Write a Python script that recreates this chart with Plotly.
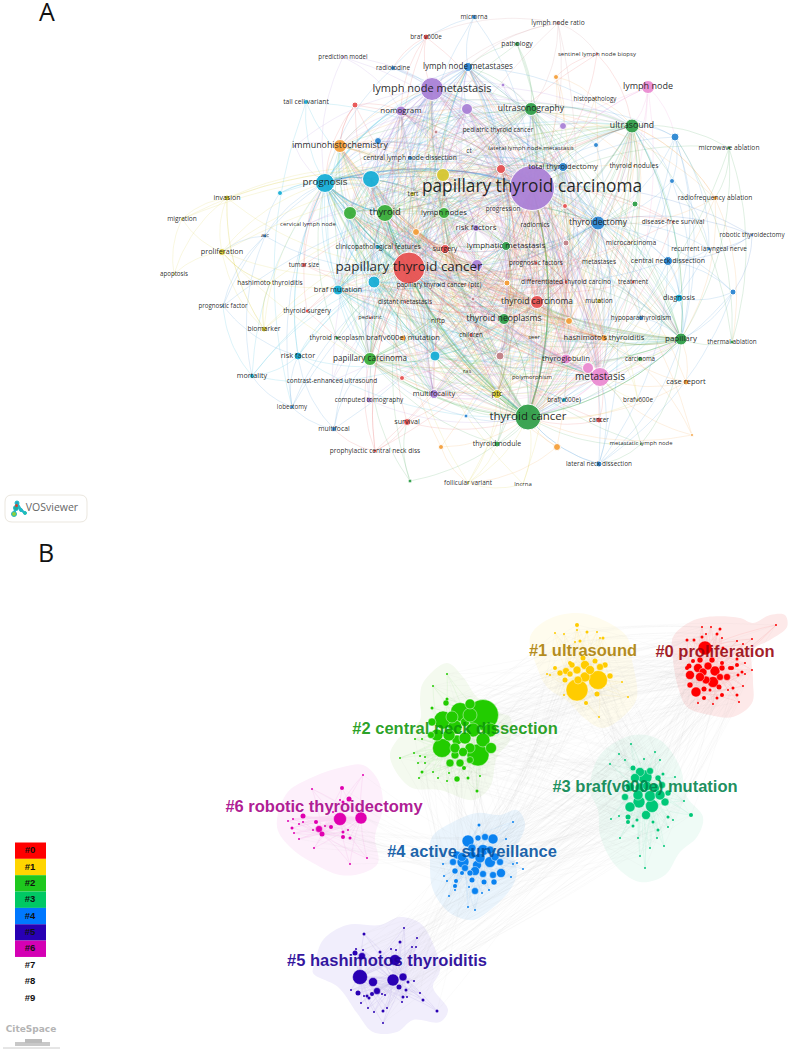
import plotly.graph_objects as go

# ---- panel A (VOSviewer keyword map) ----
node_ids = [
    "ptcarc", "ptcan", "tcan", "lnm", "thy", "prog", "cy179", "ye175", "pcar", "thyt",
    "ultra", "ultg", "meta", "thca", "thne", "papi", "tglob", "lnode", "lnms", "ihc",
    "cy282", "cy356", "gr213", "lnods", "lymet", "risk", "surg", "or232", "or283", "or321",
    "hash", "ptc", "bmut", "pu265", "re169", "tty", "nomo", "multi", "pu109", "ma356",
    "pi368", "brafv", "predm", "radio", "tall", "re105", "bl141", "ma132", "pu295", "cld",
    "tert", "cy193", "inv", "migr", "cerv", "atc", "clin", "prolif", "mirna", "lnrat",
    "path", "sent", "or77", "pu85", "histo", "pu126", "bl137", "pedt", "bl145", "llnm",
    "ct", "mwa", "tnod", "bl181", "rfa", "or204", "re206", "progr", "dfs", "radm",
    "ma243", "micro", "robo", "rln", "tsize", "apop", "hashth", "ptcp", "dist", "progf",
    "tsurg", "pedi", "niftp", "biom", "tneo", "bv600m", "riskf", "mort", "ceus", "re378",
    "ctom", "lob", "surv", "mfoc", "pros", "or447", "gr481", "pu265b", "pfac", "mets",
    "cnd", "or283b", "dtc", "treat", "ma299", "bl292", "mut", "diag", "hypo", "child",
    "seer", "therm", "carc", "ras", "poly", "crep", "bv600c", "bv600", "bl416", "can",
    "or435", "thyn", "or447b", "metln", "lat", "foll", "lnc",
]
node_labels = [
    "papillary thyroid carcinoma", "papillary thyroid cancer", "thyroid cancer", "lymph node metastasis", "thyroid", "prognosis", "", "", "papillary carcinoma", "thyroidectomy",
    "ultrasound", "ultrasonography", "metastasis", "thyroid carcinoma", "thyroid neoplasms", "papillary", "thyroglobulin", "lymph node", "lymph node metastases", "immunohistochemistry",
    "", "", "", "lymph nodes", "lymphatic metastasis", "risk factors", "surgery", "", "", "",
    "hashimoto's thyroiditis", "ptc", "braf mutation", "", "", "total thyroidectomy", "nomogram", "multifocality", "", "",
    "", "braf v600e", "prediction model", "radioiodine", "tall cell variant", "", "", "", "", "central lymph node dissection",
    "tert", "", "invasion", "migration", "cervical lymph node", "atc", "clinicopathological features", "proliferation", "microrna", "lymph node ratio",
    "pathology", "sentinel lymph node biopsy", "", "", "histopathology", "", "", "pediatric thyroid cancer", "", "lateral lymph node metastasis",
    "ct", "microwave ablation", "thyroid nodules", "", "radiofrequency ablation", "", "", "progression", "disease-free survival", "radiomics",
    "", "microcarcinoma", "robotic thyroidectomy", "recurrent laryngeal nerve", "tumor size", "apoptosis", "hashimoto thyroiditis", "papillary thyroid cancer (ptc)", "distant metastasis", "prognostic factor",
    "thyroid surgery", "pediatric", "niftp", "biomarker", "thyroid neoplasm", "braf(v600e) mutation", "risk factor", "mortality", "contrast-enhanced ultrasound", "",
    "computed tomography", "lobectomy", "survival", "multifocal", "prophylactic central neck diss", "", "", "", "prognostic factors", "metastases",
    "central neck dissection", "", "differentiated thyroid carcino", "treatment", "", "", "mutation", "diagnosis", "hypoparathyroidism", "children",
    "seer", "thermal ablation", "carcinoma", "ras", "polymorphism", "case report", "braf(v600e)", "brafv600e", "", "cancer",
    "", "thyroid nodule", "", "metastatic lymph node", "lateral neck dissection", "follicular variant", "lncrna",
]
node_x = [
    532, 409, 528, 432, 385, 325, 371, 443, 370, 598,
    632, 531, 600, 537, 504, 681, 566, 648, 468, 340,
    374, 435, 350, 444, 506, 476, 445, 416, 507, 569,
    604, 497, 338, 477, 501, 563, 401, 434, 467, 500,
    588, 426, 343, 393, 306, 355, 378, 436, 295, 410,
    413, 280, 227, 182, 308, 265, 378, 222, 474, 558,
    517, 597, 556, 503, 595, 563, 675, 498, 596, 531,
    469, 729, 634, 672, 715, 635, 565, 503, 673, 535,
    566, 631, 752, 709, 304, 174, 270, 439, 405, 223,
    307, 370, 438, 264, 337, 403, 298, 252, 332, 402,
    369, 292, 407, 334, 375, 441, 410, 477, 536, 599,
    668, 507, 566, 633, 473, 733, 599, 679, 641, 471,
    534, 732, 640, 467, 532, 686, 564, 638, 466, 599,
    692, 497, 557, 641, 599, 468, 523,
]
node_y = [
    188, 268, 417, 89, 213, 183, 179, 175, 359, 223,
    126, 109, 377, 302, 319, 339, 359, 87, 67, 146,
    282, 356, 213, 213, 246, 228, 249, 232, 283, 321,
    338, 394, 290, 265, 169, 167, 111, 394, 109, 356,
    368, 37, 57, 68, 102, 105, 141, 132, 146, 158,
    194, 193, 198, 219, 224, 236, 247, 252, 17, 23,
    44, 54, 77, 85, 99, 126, 137, 130, 145, 148,
    151, 148, 166, 181, 198, 204, 206, 209, 222, 225,
    243, 243, 235, 249, 265, 274, 283, 285, 302, 306,
    311, 318, 321, 329, 338, 338, 356, 376, 381, 378,
    400, 407, 422, 429, 451, 447, 481, 265, 263, 262,
    261, 283, 282, 282, 299, 292, 301, 298, 318, 335,
    338, 342, 359, 372, 378, 382, 400, 400, 416, 420,
    435, 444, 447, 444, 464, 483, 484,
]
node_size = [
    45, 32, 26, 23, 17, 19, 17, 13, 13, 14,
    14, 13, 19, 13, 11, 12, 10, 13, 9, 13,
    12, 10, 13, 11, 9, 7, 9, 7, 6, 7,
    7, 9, 10, 4, 9, 9, 10, 9, 11, 8,
    11, 6, 3, 5, 5, 6, 7, 4, 3, 5,
    5, 5, 6, 3, 3, 4, 5, 7, 5, 4,
    5, 3, 5, 4, 3, 7, 8, 3, 5, 2,
    2, 4, 3, 5, 5, 6, 5, 2, 3, 2,
    6, 3, 3, 4, 5, 3, 3, 4, 3, 3,
    4, 3, 3, 6, 4, 6, 8, 5, 3, 5,
    6, 4, 7, 5, 4, 5, 4, 11, 4, 2,
    9, 6, 4, 4, 4, 6, 5, 8, 5, 4,
    2, 4, 5, 2, 2, 6, 5, 3, 4, 6,
    3, 6, 7, 3, 6, 3, 2,
]
# one letter per node, same order as node_ids
node_group = (
    "pRGPgcCYgb"
    "GGkRGGkkbo"
    "ccggGPRooo"
    "oYcPRbPPPm"
    "kRPbcRbmPb"
    "YcYYPbcYbm"
    "GRoPoPbRbP"
    "PGoboGRoRP"
    "moBbRYYbRb"
    "RRYYGoccPR"
    "PbRbRoGPRP"
    "boRRmbYcbR"
    "oGGYYocYbR"
    "oGoGbYY"
)
label_size = [
    17.3, 13.4, 11.5, 11, 9.4, 9.8, 8, 8, 8.1, 8.6,
    8.7, 8.6, 10, 8.5, 8.7, 8, 7.7, 9, 8.1, 8.9,
    8, 8, 8, 7.6, 8, 8, 7, 8, 8, 8,
    7.6, 7.5, 7.5, 8, 8, 7.6, 8, 7.4, 8, 8,
    8, 6.4, 6.2, 6.4, 6.8, 8, 8, 8, 8, 6.7,
    6.4, 8, 7, 6.6, 6, 5.9, 6.7, 7.3, 6.4, 6.7,
    6.8, 6.1, 8, 8, 6.2, 8, 8, 6.4, 8, 6.1,
    6.4, 6.7, 6.7, 8, 6.7, 8, 8, 6.2, 6.6, 6.4,
    8, 6.7, 6.3, 6.4, 6.2, 6.2, 6.6, 6.4, 6.4, 6.2,
    6.7, 5.8, 6.4, 6.8, 6.7, 7.5, 7.4, 7.2, 6.4, 8,
    6.4, 6.2, 7.2, 6.8, 6.6, 8, 8, 8, 6.4, 6.4,
    7, 8, 6.6, 6.4, 8, 8, 6.4, 7.3, 6.4, 6.2,
    5.8, 6.4, 6.2, 5.7, 5.9, 7.5, 6.4, 6.4, 8, 6.4,
    8, 7.1, 8, 5.9, 6.4, 6.4, 6,
]

core_nodes = [
    "ptcarc", "tcan", "ptcan", "lnm", "thca", "prog", "thy", "thyt", "meta", "thne",
    "pu109", "cy179", "pcar", "ultg", "ma356", "tglob", "ye175", "gr213", "lnods", "re169",
    "or321", "cy356", "lymet", "cy282", "tty", "hash", "papi", "ultra", "ptc", "surg",
    "bmut", "pu265", "risk", "or283", "or232", "lnms", "nomo", "ihc", "multi", "dtc",
]

peripheral_links = [
    ("predm", ["ptcarc", "lnm", "nomo", "prog"]),
    ("brafv", ["ptcarc", "lnm", "ptcan", "nomo", "radio"]),
    ("radio", ["lnm", "ptcarc", "thyt", "prog"]),
    ("mirna", ["lnms", "ptcarc", "ptcan", "radio"]),
    ("lnrat", ["lnm", "ptcarc", "ultg", "tcan", "pcar", "lnms", "brafv", "sent"]),
    ("path", ["ultg", "thy", "ptcarc", "tcan", "lnms"]),
    ("sent", ["ptcarc", "ptcan", "ultra", "or77"]),
    ("or77", ["ptcarc", "histo", "tcan", "pu126"]),
    ("lnode", ["ultra", "ptcarc", "ptcan", "tcan", "bl137", "meta", "thyt", "ptcarc"]),
    ("histo", ["ptcarc", "ultra", "tcan"]),
    ("bl137", ["ultra", "thyt", "ptcarc", "tcan", "ultg", "bl181", "diag", "papi"]),
    ("bl145", ["ultra", "thyt", "ptcarc", "ultg"]),
    ("bl181", ["ultra", "thyt", "tcan", "papi"]),
    ("mwa", ["ultra", "rfa", "tcan", "papi", "therm", "ptcarc"]),
    ("rfa", ["ultra", "ultra", "thyt", "tcan", "papi", "therm", "ultg"]),
    ("robo", ["thyt", "ptcarc", "cnd", "rln", "bl292"]),
    ("rln", ["thyt", "cnd", "bl181", "bl137", "tcan"]),
    ("cnd", ["thyt", "papi", "ptcarc", "tcan", "ultra", "diag", "ptcan", "lat"]),
    ("bl292", ["papi", "cnd", "thyt", "tcan", "diag", "lat"]),
    ("therm", ["ultra", "papi", "bl137"]),
    ("diag", ["ultra", "papi", "tcan", "thyt", "ptcarc", "meta"]),
    ("crep", ["papi", "meta", "tcan", "ptcarc", "hash"]),
    ("carc", ["papi", "meta", "tcan", "hash"]),
    ("bv600", ["tcan", "ptcarc", "hash", "meta"]),
    ("or435", ["ptcarc", "meta", "tcan", "hash"]),
    ("metln", ["meta", "tcan", "papi", "lat", "ptcan"]),
    ("lat", ["tcan", "tcan", "ptcarc", "thyt", "papi", "meta"]),
    ("can", ["tcan", "meta", "ptcarc", "ptcan"]),
    ("or447b", ["tcan", "ptcarc", "ptcan", "foll"]),
    ("thyn", ["tcan", "ptcarc", "thne", "ptcan", "pcar", "ptc"]),
    ("foll", ["tcan", "ptcarc", "ptcan", "thyn", "ptc", "lnc"]),
    ("lnc", ["tcan", "ptcan", "ptcarc"]),
    ("gr481", ["pcar", "ptcan", "surv", "tcan"]),
    ("or447", ["tcan", "ptcan", "ptcarc", "foll"]),
    ("pros", ["ptcan", "ptcan", "ptcarc", "surv", "pcar", "mfoc", "thyt"]),
    ("surv", ["ptcan", "ptcarc", "tcan", "thca"]),
    ("mfoc", ["pcar", "ptcarc", "ptcan", "lob", "riskf"]),
    ("lob", ["riskf", "prog", "mort", "ptcarc", "ptcan"]),
    ("mort", ["riskf", "prog", "ptcarc", "ptcan", "progf", "cy356"]),
    ("ctom", ["lnm", "ptcarc", "ptcan", "tcan"]),
    ("ceus", ["ptcarc", "lnm", "ultra", "ultg"]),
    ("riskf", ["prog", "prog", "ptcarc", "ptcan", "tcan", "cy356", "cy282"]),
    ("biom", ["prog", "ptcan", "prolif", "inv", "hashth", "ptcarc"]),
    ("progf", ["prog", "atc", "ptcarc", "riskf"]),
    ("tsize", ["ptcan", "ptcarc", "prog", "thca"]),
    ("tsurg", ["ptcan", "ptcarc", "tcan", "prog"]),
    ("hashth", ["prolif", "biom", "ptcarc", "ptcan"]),
    ("apop", ["prolif", "migr", "inv"]),
    ("migr", ["inv", "prolif", "ptcarc", "ye175"]),
    ("inv", ["prolif", "ye175", "biom", "ptcarc", "ptcan"]),
    ("prolif", ["ptcan", "ptcarc", "ye175", "tcan", "hashth", "prog"]),
    ("atc", ["prog", "cy193", "prolif", "mort", "ptcan"]),
    ("cy193", ["prog", "cy179", "ptcarc"]),
    ("tall", ["prog", "ptcarc", "lob", "cy179"]),
    ("re105", ["ihc", "ptcarc", "ptcan", "nomo", "prog", "thca", "ihc"]),
    ("bl141", ["prog", "thyt", "ptcarc", "ptcan"]),
    ("pu295", ["ihc", "prog", "lnm"]),
    ("cerv", ["prog", "lnm", "ptcarc", "thy"]),
    ("clin", ["prog", "ptcarc", "ptcan", "thy", "lnm"]),
    ("cld", ["thy", "lnm", "ptcarc", "tcan", "lnms"]),
    ("tert", ["ptcarc", "ptcan", "tcan", "prog"]),
    ("pedt", ["ptcarc", "lnm", "ptcan", "tty"]),
    ("llnm", ["ptcarc", "lnm", "ultg", "tcan"]),
    ("ct", ["lnm", "ptcarc", "ptcan"]),
    ("pu126", ["ptcarc", "lnm", "ultra", "ultg"]),
    ("pu85", ["lnm", "ptcarc", "ultg", "tcan"]),
    ("ma132", ["lnm", "ptcarc", "ptcan", "tcan"]),
    ("tnod", ["ultra", "ptcarc", "tcan", "thyt", "ultg"]),
    ("or204", ["ptcarc", "ultra", "tcan", "thyt", "ptcan"]),
    ("re206", ["ptcarc", "ptcan", "tcan", "thca"]),
    ("dfs", ["ptcarc", "thyt", "ptcan", "tcan", "prog"]),
    ("micro", ["ptcarc", "ptcan", "tcan", "thyt", "ultra"]),
    ("ma243", ["ptcarc", "tcan", "ptcan", "thca", "meta"]),
    ("pfac", ["ptcarc", "ptcan", "tcan", "thca", "prog"]),
    ("mets", ["ptcan", "thyt", "tcan", "meta", "papi"]),
    ("treat", ["ptcan", "tcan", "thyt", "ptcarc"]),
    ("mut", ["ptcarc", "ptcan", "tcan", "thca", "papi"]),
    ("hypo", ["thyt", "tcan", "ptcarc", "papi", "ptcan"]),
    ("ma299", ["ptcan", "tcan", "ptcarc", "meta"]),
    ("child", ["ptcan", "tcan", "ptcarc", "thca"]),
    ("seer", ["ptcan", "tcan", "ptcarc", "prog"]),
    ("ras", ["ptcarc", "tcan", "ptcan", "thne"]),
    ("poly", ["tcan", "ptcan", "ptcarc", "hash"]),
    ("bv600c", ["tcan", "ptcarc", "ptcan", "prog"]),
    ("bl416", ["tcan", "ptcarc", "thyt", "pcar"]),
    ("tneo", ["ptcan", "tcan", "prog", "pcar"]),
    ("bv600m", ["ptcan", "ptcarc", "tcan", "meta"]),
    ("ptcp", ["ptcan", "ptcarc", "tcan", "thy"]),
    ("dist", ["ptcan", "ptcarc", "tcan", "thca"]),
    ("pedi", ["ptcan", "pcar", "tcan"]),
    ("niftp", ["ptcan", "ptcarc", "tcan"]),
    ("re378", ["ptcan", "ptcarc", "pcar", "thca"]),
    ("ptcarc", ["progr", "radm", "ma132", "pu265b", "pi368"]),
    ("papi", ["tcan", "tcan", "hash", "hash", "ptcarc", "ultra"]),
    ("tcan", ["pcar", "cy356", "thne", "ptc", "cy282", "thy", "ptcarc", "ptcarc"]),
    ("prog", ["cy179", "thy", "ptcarc", "ptcarc", "cy282"]),
    ("pi368", ["meta", "tglob", "ptcan", "tcan", "thca"]),
]

group_colors = {
    "R": (232, 84, 84), "G": (50, 160, 75), "g": (60, 175, 60), "b": (45, 135, 210),
    "B": (35, 95, 190), "Y": (215, 200, 50), "P": (170, 130, 215), "c": (25, 175, 215),
    "o": (245, 160, 60), "m": (195, 130, 135), "k": (235, 140, 210), "p": (172, 130, 215),
    "C": (25, 175, 215),
}
# order the link colours are painted in, last one on top
link_paint_order = "GgbBcCYomPpkR"

# ---- panel B (CiteSpace cluster map) ----
cluster_names = [
    "#0 proliferation", "#1 ultrasound", "#2 central neck dissection", "#3 braf(v600e) mutation",
    "#4 active surveillance", "#5 hashimotos thyroiditis", "#6 robotic thyroidectomy",
]
cluster_label_x = [715, 583, 455, 645, 472, 387, 324]
cluster_label_y = [653, 652, 730, 788, 853, 962, 808]
cluster_label_colors = [
    "rgba(150,0,10,0.88)", "rgba(170,125,0,0.88)", "rgba(15,150,10,0.9)", "rgba(0,130,75,0.9)",
    "rgba(0,80,160,0.9)", "rgba(30,0,150,0.92)", "rgba(165,0,135,0.9)",
]
cluster_colors = ["#ff0000", "#ffcc00", "#22cc00", "#00c878", "#0a82f0", "#2a00b4", "#e000b0"]
hull_colors = ["#fde9e9", "#fffcee", "#f4faef", "#effbf6", "#ebf5fd", "#f1eefc", "#fdf0fb"]

red_nodes = [
    (705, 648, 14), (715, 671, 10), (713, 682, 11), (696, 692, 10), (690, 675, 9), (698, 668, 9), (706, 680, 8),
    (703, 672, 8), (727, 677, 7), (689, 666, 5), (690, 685, 6), (719, 687, 5), (700, 677, 9), (708, 666, 8),
    (720, 677, 7), (712, 660, 6), (722, 668, 6), (700, 660, 6), (732, 668, 4), (693, 661, 4), (704, 689, 5),
    (776, 625, 2), (702, 627, 2),
    (711, 627, 2), (720, 629, 3), (706, 634, 2), (717, 634, 3), (702, 637, 3), (687, 640, 3), (694, 640, 3),
    (722, 638, 2), (752, 639, 2), (737, 641, 2), (743, 644, 2), (723, 648, 3), (737, 659, 3), (745, 663, 2),
    (737, 665, 4), (752, 670, 2), (742, 672, 3), (745, 674, 2), (738, 675, 3), (743, 686, 2), (733, 688, 3),
    (737, 695, 3), (722, 695, 4), (717, 698, 3), (739, 702, 2), (713, 704, 2), (698, 703, 2), (704, 698, 4),
    (710, 690, 3), (728, 690, 2), (687, 668, 4), (730, 668, 4), (722, 663, 4),
]
yellow_nodes = [
    (577, 690, 22), (598, 680, 19), (585, 677, 10), (566, 671, 7), (560, 673, 6), (577, 670, 8), (585, 665, 9),
    (605, 665, 6), (610, 676, 6), (597, 694, 5), (586, 703, 4), (590, 670, 9), (600, 667, 7), (572, 665, 6),
    (578, 680, 8), (565, 680, 5), (570, 674, 6), (583, 658, 5), (595, 661, 5),
    (577, 625, 4), (555, 633, 2), (564, 634, 2),
    (587, 632, 3), (597, 632, 2), (577, 630, 2), (600, 638, 2), (603, 638, 3), (580, 641, 3), (575, 642, 2),
    (550, 675, 2), (547, 674, 2), (622, 682, 2), (628, 697, 2), (564, 695, 2), (599, 717, 2), (570, 663, 4),
    (555, 668, 4),
]
green_nodes = [
    (483, 715, 31), (478, 755, 22), (460, 712, 19), (442, 748, 19), (443, 720, 18), (490, 730, 14), (455, 727, 14),
    (473, 730, 14), (483, 740, 14), (470, 748, 10), (457, 740, 10), (455, 755, 8), (450, 763, 8), (460, 763, 8),
    (465, 722, 9), (470, 760, 7), (437, 735, 12), (449, 735, 12), (465, 738, 12), (452, 717, 12), (470, 715, 14),
    (491, 748, 11), (432, 722, 8), (431, 735, 7), (455, 748, 10), (463, 752, 9), (470, 704, 10), (446, 703, 6),
    (457, 779, 6), (468, 778, 3), (464, 768, 4), (447, 674, 2), (433, 686, 2), (447, 699, 3),
    (432, 708, 3), (415, 739, 2), (422, 739, 2), (400, 758, 2), (414, 753, 2), (420, 756, 2), (425, 757, 2),
    (418, 763, 2), (425, 763, 2), (422, 772, 3), (433, 772, 2), (419, 778, 2), (438, 778, 2), (447, 781, 2),
    (449, 773, 2), (477, 791, 3), (480, 776, 2),
]
mint_nodes = [
    (652, 806, 13), (645, 777, 14), (639, 802, 12), (640, 788, 10), (630, 807, 10), (640, 772, 9), (635, 778, 9),
    (630, 787, 9), (655, 788, 9), (646, 815, 9), (665, 802, 8), (650, 771, 7), (662, 785, 7), (633, 768, 5),
    (668, 793, 6), (650, 796, 11), (660, 795, 10), (638, 795, 10), (647, 786, 9), (625, 797, 7), (658, 778, 6),
    (628, 817, 5), (628, 822, 4), (633, 826, 3), (637, 820, 3), (631, 744, 2), (655, 752, 2),
    (619, 754, 2), (610, 764, 2), (644, 759, 2), (625, 760, 2), (660, 760, 2), (663, 774, 3), (675, 777, 2),
    (684, 801, 2), (691, 815, 4), (611, 819, 2), (619, 816, 2), (668, 817, 3), (673, 820, 2), (658, 830, 3),
    (668, 827, 2), (653, 822, 3), (638, 838, 2), (657, 838, 2), (620, 838, 2), (650, 848, 2), (640, 856, 2),
    (664, 846, 2), (645, 868, 2),
]
blue_nodes = [
    (463, 862, 12), (468, 841, 12), (490, 862, 11), (483, 850, 11), (493, 839, 10), (501, 873, 9), (477, 865, 9),
    (475, 871, 9), (472, 855, 8), (457, 855, 8), (495, 857, 8), (485, 837, 7), (483, 874, 7), (493, 875, 7),
    (465, 868, 7), (475, 891, 7), (478, 838, 6), (455, 871, 6), (494, 882, 6), (472, 880, 5), (484, 882, 5),
    (462, 857, 9), (480, 858, 10), (472, 848, 8), (490, 850, 8), (500, 862, 7), (453, 862, 7), (470, 873, 6),
    (462, 873, 4), (456, 881, 4), (455, 886, 4), (479, 825, 3), (513, 822, 2), (506, 839, 2), (449, 896, 2),
    (455, 890, 2), (482, 893, 2), (489, 890, 2), (468, 907, 2), (475, 910, 2), (443, 864, 2), (444, 876, 2),
    (447, 881, 2), (517, 863, 2), (513, 864, 2), (523, 869, 2), (511, 877, 2), (469, 887, 2),
]
indigo_nodes = [
    (360, 977, 15), (393, 980, 12), (373, 982, 9), (403, 977, 8), (377, 991, 7), (399, 987, 5), (358, 993, 5),
    (395, 960, 11), (362, 956, 7), (355, 953, 5), (364, 934, 3), (404, 928, 2), (417, 938, 2), (400, 942, 3),
    (412, 947, 2), (416, 947, 2), (380, 952, 3), (391, 949, 2), (396, 950, 2), (356, 949, 2), (363, 950, 2),
    (408, 982, 3), (414, 981, 2), (406, 990, 3), (403, 997, 3), (407, 997, 2), (420, 993, 2), (423, 1000, 3),
    (437, 1011, 3), (402, 1002, 2), (387, 1008, 2), (383, 1011, 3), (383, 1023, 2), (374, 1012, 2), (368, 1008, 2),
    (361, 1003, 2), (372, 994, 4), (367, 996, 3), (364, 996, 2), (369, 998, 3), (351, 990, 2), (382, 994, 2),
    (385, 995, 2),
]
magenta_nodes = [
    (340, 819, 13), (361, 818, 12), (319, 829, 7), (322, 834, 5), (331, 827, 4), (342, 788, 4), (349, 799, 5),
    (303, 816, 5), (316, 822, 4), (312, 789, 2), (363, 775, 2), (292, 828, 3), (294, 833, 2), (299, 824, 2),
    (293, 819, 2), (288, 821, 2), (303, 822, 2), (313, 830, 2), (343, 832, 3), (348, 830, 2), (343, 837, 4),
    (350, 838, 3), (299, 839, 2), (314, 848, 2), (350, 864, 2), (367, 858, 2), (325, 826, 2), (343, 802, 3),
    (340, 800, 2), (333, 812, 2),
]
cluster_nodes = [red_nodes, yellow_nodes, green_nodes, mint_nodes, blue_nodes, indigo_nodes, magenta_nodes]

hull_outlines = [
    [(673, 637), (690, 622), (707, 617), (740, 618), (753, 623), (770, 615), (785, 615), (787, 627), (770, 640),
     (753, 650), (753, 680), (752, 703), (733, 717), (710, 715), (687, 707), (678, 687), (673, 660)],
    [(530, 637), (547, 620), (577, 613), (603, 620), (627, 637), (632, 660), (637, 697), (627, 713), (603, 728),
     (583, 717), (570, 703), (547, 687), (537, 667)],
    [(423, 683), (447, 663), (463, 677), (477, 697), (500, 713), (510, 717), (510, 740), (497, 757), (490, 787),
     (473, 800), (440, 790), (410, 787), (390, 757), (397, 740), (420, 720), (420, 700)],
    [(590, 790), (600, 755), (633, 735), (660, 740), (680, 767), (687, 797), (703, 817), (697, 837), (680, 852),
     (665, 875), (640, 882), (615, 865), (600, 835), (598, 810)],
    [(432, 837), (453, 822), (477, 813), (500, 815), (517, 810), (525, 823), (520, 840), (513, 850), (517, 873),
     (510, 890), (490, 910), (473, 920), (450, 913), (433, 890), (430, 863)],
    [(315, 963), (323, 940), (347, 925), (380, 925), (400, 917), (420, 923), (430, 937), (440, 970), (433, 987),
     (448, 1010), (440, 1022), (413, 1020), (397, 1032), (373, 1032), (357, 1013), (338, 987), (313, 973)],
    [(277, 827), (287, 793), (313, 777), (343, 767), (363, 765), (378, 780), (383, 807), (375, 837), (378, 863),
     (363, 873), (340, 875), (313, 863), (290, 847)],
]
cluster_web_pairs = [
    (0, 1), (0, 2), (1, 2), (0, 3), (1, 3), (2, 3), (2, 4), (3, 4), (3, 5),
    (4, 5), (6, 4), (1, 4), (0, 4),
]

legend_labels = ["#0", "#1", "#2", "#3", "#4", "#5", "#6", "#7", "#8", "#9"]
legend_colors = ["#ff0000", "#ffd500", "#1ec81e", "#00c864", "#0078ff", "#2800b4", "#d400b4"]


def curve(x0, y0, x1, y1, bend, cx, cy, steps=16):
    # quadratic curve that bows away from (cx, cy), like the map's links
    mx, my = (x0 + x1) / 2, (y0 + y1) / 2
    dx, dy = x1 - x0, y1 - y0
    nx, ny = -dy * bend, dx * bend
    if (mx + nx - cx) ** 2 + (my + ny - cy) ** 2 < (mx - nx - cx) ** 2 + (my - ny - cy) ** 2:
        nx, ny = -nx, -ny
    xs, ys = [], []
    for i in range(steps + 1):
        t = i / steps
        xs.append((1 - t) ** 2 * x0 + 2 * (1 - t) * t * (mx + nx) + t ** 2 * x1)
        ys.append((1 - t) ** 2 * y0 + 2 * (1 - t) * t * (my + ny) + t ** 2 * y1)
    xs.append(None)
    ys.append(None)
    return xs, ys


fig = go.Figure()

# panel B hulls first, everything else sits on them
for outline, color in zip(hull_outlines, hull_colors):
    xs = [p[0] for p in outline] + [outline[0][0]]
    ys = [p[1] for p in outline] + [outline[0][1]]
    fig.add_trace(go.Scatter(x=xs, y=ys, mode="lines", fill="toself", fillcolor=color,
                             line=dict(color=color, width=0, shape="spline", smoothing=1.0),
                             hoverinfo="skip", showlegend=False))

web_x, web_y = [], []
for a, b in cluster_web_pairs:
    for p, q in zip(cluster_nodes[a], cluster_nodes[b]):
        xs, ys = curve(p[0], p[1], q[0], q[1], 0.05, 470, 800, steps=8)
        web_x += xs
        web_y += ys
fig.add_trace(go.Scatter(x=web_x, y=web_y, mode="lines", line=dict(color="rgba(150,150,150,0.05)", width=0.7),
                         hoverinfo="skip", showlegend=False))

for nodes, color in zip(cluster_nodes, cluster_colors):
    link_x, link_y = [], []
    for p in nodes[1:]:
        for hub in (nodes[0], nodes[1], nodes[3]):
            xs, ys = curve(hub[0], hub[1], p[0], p[1], 0.06, hub[0], hub[1], steps=6)
            link_x += xs
            link_y += ys
    fig.add_trace(go.Scatter(x=link_x, y=link_y, mode="lines", opacity=0.1, line=dict(color=color, width=0.6),
                             hoverinfo="skip", showlegend=False))
    # opacity has to be set: a size array would otherwise default to 0.7
    fig.add_trace(go.Scatter(x=[p[0] for p in nodes], y=[p[1] for p in nodes], mode="markers",
                             marker=dict(color=color, size=[p[2] for p in nodes], opacity=1,
                                         line=dict(color="rgba(255,255,255,0.6)",
                                                   width=[0.7 if p[2] >= 6 else 0 for p in nodes])),
                             hoverinfo="skip", showlegend=False))

fig.add_trace(go.Scatter(x=cluster_label_x, y=cluster_label_y, mode="text", text=cluster_names,
                         textfont=dict(family="Liberation Sans", size=16.5, color=cluster_label_colors, weight="bold"),
                         hoverinfo="skip", showlegend=False))

# panel A links
index_of = {name: i for i, name in enumerate(node_ids)}
link_bins = {}


def add_link(source, target):
    i, j = index_of[source], index_of[target]
    key = (node_group[i], min(node_size[i], node_size[j]) >= 9, min(node_size[i], node_size[j]) >= 17)
    bin_x, bin_y = link_bins.setdefault(key, ([], []))
    xs, ys = curve(node_x[i], node_y[i], node_x[j], node_y[j], 0.16, 480, 240)
    bin_x += xs
    bin_y += ys


for a, first in enumerate(core_nodes):
    for second in core_nodes[a + 1:]:
        # alternate so the centre gets a mix of cluster colours
        if (index_of[first] + index_of[second]) % 2:
            add_link(first, second)
        else:
            add_link(second, first)
for source, targets in peripheral_links:
    for target in targets:
        add_link(source, target)

for group in link_paint_order:
    for (g_name, thick, thicker), (bin_x, bin_y) in link_bins.items():
        if g_name != group:
            continue
        r, g, b = group_colors[group]
        width = 1.3 if thicker else 0.9 if thick else 0.6
        alpha = 0.26 if thicker else 0.18 if thick else 0.26
        fig.add_trace(go.Scatter(x=bin_x, y=bin_y, mode="lines", line=dict(color=f"rgba({r},{g},{b},{alpha})", width=width),
                                 hoverinfo="skip", showlegend=False))

node_colors = ["rgb(%d,%d,%d)" % group_colors[g] for g in node_group]
fig.add_trace(go.Scatter(x=node_x, y=node_y, mode="markers", marker=dict(color=node_colors, size=node_size, opacity=0.95),
                         hoverinfo="skip", showlegend=False))
fig.add_trace(go.Scatter(x=node_x, y=node_y, mode="text", text=node_labels,
                         textfont=dict(family="Open Sans", size=label_size, color="rgba(25,25,25,0.95)"),
                         hoverinfo="skip", showlegend=False))

# legend swatches for panel B
swatch_height = 16.35
for k, color in enumerate(legend_colors):
    fig.add_shape(type="rect", x0=15, x1=46, y0=842.5 + k * swatch_height, y1=842.5 + (k + 1) * swatch_height,
                  fillcolor=color, line_width=0, layer="below")
fig.add_trace(go.Scatter(x=[30] * len(legend_labels), y=[851 + k * swatch_height for k in range(len(legend_labels))],
                         mode="text", text=legend_labels,
                         textfont=dict(family="Liberation Sans", size=9.5, color="#111111", weight="bold"),
                         hoverinfo="skip", showlegend=False))

# VOSviewer badge
fig.add_shape(type="path", path="M 12 495 L 80 495 Q 87 495 87 502 L 87 515 Q 87 522 80 522 L 12 522 Q 5 522 5 515 L 5 502 Q 5 495 12 495 Z",
              line=dict(color="#ebe7df", width=1), fillcolor="white", layer="below")
fig.add_trace(go.Scatter(x=[14, 16, 17, 21, 25], y=[514, 508, 503, 510, 513], mode="lines+markers",
                         line=dict(color="#22b8c8", width=2.5),
                         marker=dict(size=[5, 5, 4, 3, 3], opacity=1,
                                     color=["#8ccf3c", "#1fa8a0", "#1fa8c0", "#22b8c8", "#22c8a0"]),
                         hoverinfo="skip", showlegend=False))
fig.add_trace(go.Scatter(x=[16.5], y=[505.5], mode="markers", marker=dict(size=3, color="#d8402a"),
                         hoverinfo="skip", showlegend=False))

# CiteSpace mark
fig.add_shape(type="rect", x0=15, x1=50, y0=1042, y1=1046, fillcolor="#c8c8c8", line_width=0, layer="below")
fig.add_shape(type="rect", x0=25, x1=42, y0=1039, y1=1043, fillcolor="#bbbbbb", line_width=0, layer="below")
fig.add_shape(type="line", x0=3, x1=60, y0=1048, y1=1048, line=dict(color="#cccccc", width=1), layer="below")

fig.add_trace(go.Scatter(x=[47, 46, 52, 31], y=[15, 556, 508, 1030], mode="text",
                         text=["A", "B", "VOSviewer", "<b>CiteSpace</b>"],
                         textfont=dict(family=["Open Sans", "Open Sans", "Open Sans", "DejaVu Sans"],
                                       size=[25, 25, 10.5, 9], color=["#111111", "#111111", "#666666", "#b4b4b4"]),
                         hoverinfo="skip", showlegend=False))

fig.update_layout(
    width=789,
    height=1051,
    margin=dict(l=0, r=0, t=0, b=0),
    plot_bgcolor="white",
    paper_bgcolor="white",
    showlegend=False,
    xaxis=dict(range=[0, 789], visible=False, fixedrange=True),
    yaxis=dict(range=[1051, 0], visible=False, fixedrange=True),
)
fig.write_html("out.html", config=dict(displayModeBar=False),
               post_script="document.body.style.margin='0';document.body.style.overflow='hidden';")
